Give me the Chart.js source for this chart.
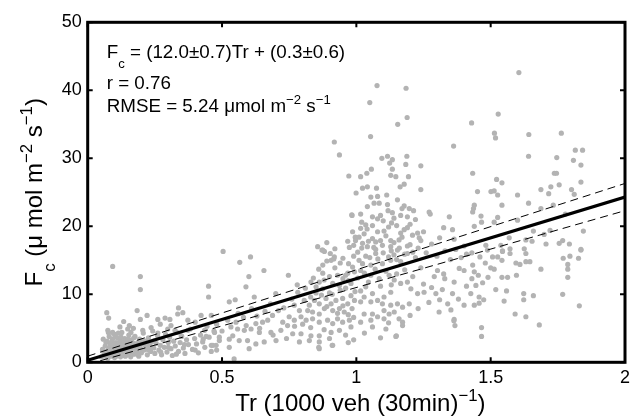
<!DOCTYPE html>
<html>
<head>
<meta charset="utf-8">
<script src="https://cdn.jsdelivr.net/npm/chart.js@4.4.1/dist/chart.umd.min.js"></script>
<style>
  html, body { margin: 0; padding: 0; background: #ffffff; }
  #wrap { width: 630px; height: 416px; }
</style>
</head>
<body>
<div id="wrap"><canvas id="fc" width="630" height="416"></canvas></div>
<script>
// Axis ticks
const trTicks = [0, 0.5, 1, 1.5, 2];
const fcTicks = [0, 10, 20, 30, 40, 50];

// Linear fit Fc = a*Tr + b with standard errors, and fit statistics
const fitSlope = 12.0, slopeErr = 0.7;
const fitIntercept = 0.3, interceptErr = 0.6;
const corrR = 0.76;
const rmse = 5.24;

// Half-hourly observations [Tr (1000 veh / 30 min), Fc (umol m-2 s-1)]
const lowTraffic = [
  [0.05,0.8],[0.06,1.5],[0.065,2.4],[0.07,1.1],[0.072,3.1],[0.075,0.6],[0.078,2.0],[0.08,3.8],[0.082,1.4],[0.085,2.7],
  [0.088,0.9],[0.09,1.9],[0.092,3.4],[0.095,1.2],[0.097,2.3],[0.1,4.1],[0.1,0.7],[0.102,1.6],[0.105,2.9],[0.107,2.0],
  [0.11,3.6],[0.112,1.1],[0.115,2.5],[0.117,1.7],[0.12,3.2],[0.122,0.8],[0.125,2.1],[0.127,4.4],[0.13,1.4],[0.133,2.8],
  [0.135,1.9],[0.138,3.5],[0.14,0.9],[0.143,2.4],[0.145,1.3],[0.148,3.0],[0.15,2.0],[0.153,4.0],[0.155,1.6],[0.158,2.6],
  [0.16,0.8],[0.163,3.3],[0.166,1.9],[0.17,2.8],[0.173,1.2],[0.176,3.8],[0.18,2.2],[0.183,1.5],[0.186,2.9],[0.19,0.9],
  [0.193,3.4],[0.197,2.0],[0.2,1.4],[0.203,2.7],[0.207,4.3],[0.21,1.8],[0.214,3.1],[0.218,2.3],[0.222,1.1],[0.226,3.6],
  [0.23,2.6],[0.234,1.6],[0.238,3.0],[0.242,4.6],[0.246,2.1],[0.25,1.3],[0.255,2.8],[0.26,3.9],[0.265,1.8],[0.27,2.5],
  [0.275,1.1],[0.28,3.3],[0.285,2.2],[0.29,4.1],[0.295,1.5],[0.3,2.9],[0.305,3.7],[0.31,2.0],[0.315,1.0],[0.32,3.1],
  [0.326,2.4],[0.332,4.4],[0.338,1.6],[0.344,2.9],[0.35,3.8],[0.356,2.1],[0.362,1.3],[0.368,3.3],[0.375,2.6],[0.382,4.9],
  [0.39,1.9],[0.398,3.5],[0.405,2.7],[0.412,1.4],[0.42,4.0],[0.428,3.0],[0.436,2.2],[0.444,5.3],[0.452,3.7],[0.46,2.5],
  [0.47,4.6],[0.48,1.8],[0.49,3.2],
  [0.071,7.3],[0.078,6.5],[0.093,14.1],[0.196,12.6],[0.196,10.7],[0.184,7.6],[0.221,6.9],[0.196,6.3],[0.134,6.0],[0.155,5.4],
  [0.261,6.3],[0.288,6.5],[0.306,6.3],[0.338,8.0],[0.354,7.3],[0.335,7.1],[0.422,6.9],[0.46,6.9],[0.373,6.2],[0.075,4.7],
  [0.093,4.4],[0.114,4.3],[0.149,4.9],[0.161,4.4],[0.205,4.7],[0.236,5.1],[0.261,4.3],[0.298,4.9],[0.325,4.7],[0.348,3.9],
  [0.373,4.7],[0.435,4.7],[0.441,3.8],[0.472,4.4],[0.49,3.7],[0.478,2.5],[0.466,2.5],[0.45,11.2],[0.45,9.6],
  [0.055,1.9],[0.058,3.4],[0.062,0.9],[0.068,2.9],[0.073,1.7],[0.077,4.4],[0.083,2.3],[0.086,1.0],[0.089,3.0],[0.094,2.6],
  [0.098,1.4],[0.103,3.8],[0.106,0.9],[0.109,2.4],[0.113,1.4],[0.118,2.9],[0.121,1.9],[0.124,3.7],[0.128,1.0],[0.131,2.3],
  [0.136,3.1],[0.139,1.6],[0.142,2.0],[0.147,1.1],[0.151,3.4],[0.156,2.2],[0.162,1.2],[0.167,2.4],[0.172,3.6],[0.178,1.7],
  [0.182,2.6],[0.188,1.2],[0.192,2.4],[0.2,3.2],[0.212,2.6],[0.224,1.9],[0.236,2.2],[0.248,3.2],[0.272,1.5],[0.3,2.2],
  [0.33,1.2],[0.36,2.6],[0.4,1.8],[0.43,3.4],[0.46,1.6],[0.12,5.2],[0.17,5.0],[0.27,5.6],[0.31,5.4],[0.4,5.9],
  [0.48,5.6]
];

const midTraffic = [
  [0.504,16.3],[0.566,14.7],[0.606,15.5],[0.656,13.5],[0.6,12.6],[0.589,11.1],[0.747,12.8],[0.881,16.3],[0.906,15.0],[0.918,15.5],
  [0.875,14.3],[0.971,14.5],[0.986,14.0],[0.875,13.1],[0.9,12.6],[0.93,12.8],[0.95,12.3],[0.968,13.1],[0.993,13.3],[0.831,11.8],
  [0.862,11.8],[0.85,11.1],[0.875,10.8],[0.912,11.6],[0.937,11.3],[0.98,11.6],[0.527,8.9],[0.549,9.2],[0.62,9.6],[0.7,10.1],
  [0.782,10.3],[0.806,9.1],[0.825,8.4],[0.844,9.1],[0.862,8.6],[0.887,9.4],[0.906,8.6],[0.924,9.1],[0.949,9.4],[0.968,8.6],
  [0.993,9.1],[0.984,7.9],[0.819,7.6],[0.837,7.4],[0.862,7.1],[0.881,7.9],[0.912,7.6],[0.937,7.9],[0.955,7.4],[0.769,8.4],
  [0.788,7.6],[0.75,6.7],[0.769,6.2],[0.794,6.7],[0.813,6.2],[0.837,6.4],[0.862,5.9],[0.893,6.2],[0.912,5.7],[0.93,6.4],
  [0.949,5.9],[0.974,6.2],[0.726,5.9],[0.744,5.4],[0.688,6.9],[0.67,6.2],[0.651,5.9],[0.626,5.7],[0.608,4.9],[0.583,4.7],
  [0.558,4.9],[0.533,5.2],[0.552,5.9],[0.521,6.2],[0.639,4.4],[0.682,4.4],[0.719,4.7],[0.763,4.2],[0.794,4.2],[0.831,3.9],
  [0.862,3.9],[0.906,4.4],[0.937,4.7],[0.98,5.2],[0.527,3.4],[0.564,3.2],[0.595,3.2],[0.626,2.7],[0.657,3.0],[0.701,3.2],
  [0.788,3.0],[0.825,3.2],[0.862,3.0],[0.912,2.5],[0.527,2.2],[0.601,2.0],[0.862,2.0],[0.545,0.5],[0.86,2.2],[0.91,2.5],
  [0.856,17.0],[0.875,16.5],[0.968,17.8],[0.99,17.2],[0.974,16.9],[0.986,19.2],[0.996,18.4],[0.983,21.7],[0.999,24.9],[0.972,27.4],
  [0.937,30.5],[0.918,32.4],[0.872,16.5],[0.903,16.0],[0.916,15.2],[0.984,21.6],[0.997,17.9],
  [0.81,10.9],[0.84,12.4],[0.86,13.7],[0.89,14.9],[0.9,10.2],[0.92,13.9],[0.94,10.6],[0.95,15.3],[0.96,10.9],[0.97,12.0],
  [0.99,15.6],[0.995,10.4],[0.88,12.1],[0.83,9.6],[0.85,10.2],[0.87,9.9],[0.89,8.2],[0.91,10.0],[0.93,7.2],[0.95,8.3],
  [0.97,7.0],[0.99,6.6],[0.98,9.8],[0.96,12.8],[0.94,14.6],[0.92,16.7],[0.89,17.6],[0.78,11.4],[0.76,9.3],[0.73,8.0],
  [0.71,7.6],[0.68,8.6],[0.66,7.5],[0.63,6.8],[0.61,7.9],[0.58,6.6],[0.56,7.2],[0.54,3.9],[0.59,5.4],[0.64,5.0],
  [0.69,4.0],[0.74,3.5],[0.77,5.3],[0.8,5.6],[0.83,5.1],[0.88,4.8],[0.96,4.0],[0.99,3.3],[0.97,2.9],[0.9,3.5],
  [0.5,4.6]
];

const peakTraffic = [
  [1.01,15.0],[1.023,14.5],[1.054,14.3],[1.097,14.5],[1.128,15.0],[1.165,14.8],[1.14,15.8],[1.19,16.0],[1.072,16.0],[1.016,13.5],
  [1.054,12.8],[1.085,12.3],[1.122,12.8],[1.141,12.1],[1.165,11.6],[1.19,11.8],[1.203,10.8],[1.228,10.1],[1.252,10.3],[1.296,10.1],
  [1.358,10.1],[1.302,13.5],[1.325,13.0],[1.329,12.3],[1.29,12.6],[1.364,11.8],[1.383,13.8],[1.401,13.5],[1.433,14.3],[1.439,13.3],
  [1.454,12.8],[1.445,11.3],[1.426,10.1],[1.457,9.6],[1.474,9.2],[1.457,8.7],[1.439,8.4],[1.401,8.4],[1.016,10.5],[1.035,11.1],
  [1.06,10.1],[1.029,9.6],[1.016,8.9],[1.054,8.9],[1.079,9.1],[1.103,9.6],[1.128,10.3],[1.128,8.4],[1.153,8.6],[1.172,8.1],
  [1.197,8.6],[1.097,8.6],[1.103,7.6],[1.122,7.1],[1.141,7.4],[1.029,7.1],[1.06,7.1],[1.054,6.2],[1.079,6.7],[1.103,6.4],
  [1.159,6.4],[1.172,5.9],[1.172,5.4],[1.016,5.9],[1.11,4.9],[1.147,3.8],[1.308,7.4],[1.352,7.7],[1.364,6.3],[1.367,5.4],
  [1.466,5.1],[1.466,3.8],
  [1.362,31.8],[1.095,30.0],[1.116,30.3],[1.134,29.8],[1.124,29.3],[1.188,30.3],[1.184,29.1],[1.24,28.9],[1.056,28.4],[1.039,27.8],
  [1.016,27.3],[1.134,28.4],[1.128,27.5],[1.147,27.3],[1.194,27.3],[1.433,27.8],[1.041,25.8],[1.023,25.6],[1.075,25.6],[1.178,26.2],
  [1.163,25.8],[1.24,25.4],[1.451,25.1],[1.054,24.3],[1.079,24.4],[1.113,24.6],[1.153,23.9],[1.066,23.4],[1.085,23.4],[1.116,23.2],
  [1.041,22.9],[1.178,23.0],[1.118,22.3],[1.134,22.0],[1.197,22.6],[1.213,22.3],[1.271,22.1],[1.275,21.8],[1.016,21.8],[1.06,21.4],
  [1.079,21.1],[1.165,21.6],[1.439,23.1],[1.436,22.6],[1.433,22.1],[1.464,21.5],[1.346,21.4],[1.131,20.5],[1.035,20.2],[1.178,19.5],
  [1.19,19.8],[1.165,19.0],[1.103,19.3],[1.079,19.2],[1.016,19.7],[1.029,18.9],[1.01,18.4],[1.06,18.2],[1.072,17.7],[1.128,17.9],
  [1.159,18.0],[1.209,18.7],[1.228,19.0],[1.234,18.3],[1.24,17.9],[1.325,19.8],[1.358,19.5],[1.439,20.0],[1.466,20.6],[1.364,18.1],
  [1.023,17.5],[1.041,17.0],[1.097,17.2],[1.128,17.0],[1.19,17.1],[1.153,16.5],[1.072,16.6],[1.401,17.1],[1.482,17.2],[1.488,16.5],
  [1.077,40.7],[1.185,40.3],[1.05,38.2],[1.189,36.0],[1.154,35.0],[1.053,33.2],[1.429,35.2],[1.149,3.9],[1.363,6.1],
  [1.005,16.2],[1.02,16.8],[1.035,15.6],[1.045,17.8],[1.05,15.4],[1.065,16.9],[1.08,15.2],[1.09,17.9],[1.1,16.1],[1.11,18.6],
  [1.12,15.5],[1.13,16.4],[1.14,17.6],[1.15,15.1],[1.16,16.8],[1.17,18.4],[1.18,15.9],[1.2,17.3],[1.21,16.2],[1.22,15.4],
  [1.23,16.8],[1.005,12.4],[1.03,13.1],[1.045,11.8],[1.07,13.7],[1.09,11.2],[1.11,13.4],[1.13,11.4],[1.15,13.0],[1.18,13.6],
  [1.21,12.6],[1.24,13.9],[1.02,20.6],[1.04,19.6],[1.06,20.1],[1.09,21.6],[1.1,20.8],[1.12,19.9],[1.14,21.2],[1.15,20.1],
  [1.17,22.6],[1.19,21.4],[1.2,20.3],[1.22,21.0],[1.25,19.2],[1.26,16.1],[1.28,17.4],[1.3,15.6],[1.31,18.3],[1.33,16.4],
  [1.35,15.1],[1.37,16.6],[1.39,15.4],[1.41,15.9],[1.43,16.1],[1.46,15.5],[1.48,14.6],[1.47,11.7],[1.49,12.5],[1.03,4.3],
  [1.06,5.2],[1.09,3.6],[1.12,5.8],[1.2,6.9],[1.23,7.9],[1.27,8.8],[1.31,9.2],[1.34,8.6],[1.38,9.3],[1.41,11.2],
  [1.43,12.3],[1.25,11.5],[1.28,11.0],[1.32,10.7]
];

const highTraffic = [
  [1.605,42.6],[1.528,36.5],[1.514,33.7],[1.518,33.0],[1.642,33.5],[1.763,33.7],[1.501,25.1],[1.5,13.9],
  [1.507,15.5],[1.526,15.5],[1.542,15.0],[1.544,16.3],[1.572,16.0],[1.631,16.0],[1.594,14.6],[1.609,14.4],[1.631,14.8],
  [1.646,14.8],[1.687,13.7],[1.513,13.7],[1.542,12.5],[1.563,12.5],[1.596,12.8],[1.77,15.3],[1.795,15.6],[1.827,15.3],[1.836,16.5],
  [1.787,14.4],[1.787,13.7],[1.787,12.5],[1.519,10.7],[1.559,10.5],[1.55,9.0],[1.623,10.1],[1.623,9.2],[1.659,9.8],[1.768,10.0],
  [1.83,8.3],[1.591,7.1],[1.631,6.7],[1.681,5.5],
  [1.641,30.3],[1.815,31.2],[1.842,31.2],[1.808,29.7],[1.836,29.0],[1.746,30.1],[1.737,27.8],[1.745,27.8],[1.522,26.9],[1.542,26.4],
  [1.836,26.5],[1.724,25.8],[1.755,26.1],[1.687,25.4],[1.716,24.8],[1.801,25.4],[1.811,24.7],[1.513,25.2],[1.526,24.6],[1.6,24.6],
  [1.542,23.1],[1.641,23.4],[1.687,22.6],[1.733,23.1],[1.778,21.8],[1.526,21.3],[1.513,20.6],[1.6,20.9],[1.845,19.3],[1.659,19.3],
  [1.721,19.4],[1.699,18.8],[1.569,18.3],[1.631,18.0],[1.654,17.8],[1.768,17.9],[1.755,17.5],[1.793,17.4],[1.706,17.4],[1.538,17.2],
  [1.625,16.7],[1.572,16.7],[1.836,16.6],[1.544,16.4]
];

const observations = [...lowTraffic, ...midTraffic, ...peakTraffic, ...highTraffic]
  .map(([tr, fc]) => ({ x: tr, y: fc }));

// Fit line and its error band, evaluated at the ends of the Tr axis
const trMin = trTicks[0], trMax = trTicks[trTicks.length - 1];
const lineFrom = (a, b) => [{ x: trMin, y: a * trMin + b }, { x: trMax, y: a * trMax + b }];

const FONT = '"Liberation Sans", Arial, Helvetica, sans-serif';
const MINUS = '\u2212';

// Draws a run of text pieces, some of them raised or lowered
function richWidth(ctx, parts, size) {
  let w = 0;
  for (const p of parts) {
    const s = p.sup || p.sub ? size * 0.7 : size;
    ctx.font = s + 'px ' + FONT;
    w += ctx.measureText(p.t).width;
  }
  return w;
}
function drawRich(ctx, parts, x, y, size, align) {
  let cx = x;
  if (align === 'center') cx = x - richWidth(ctx, parts, size) / 2;
  ctx.textAlign = 'left';
  ctx.textBaseline = 'alphabetic';
  for (const p of parts) {
    const s = p.sup || p.sub ? size * 0.7 : size;
    ctx.font = s + 'px ' + FONT;
    let dy = 0;
    if (p.sup) dy = -size * 0.42;
    if (p.sub) dy = size * 0.55;
    ctx.fillText(p.t, cx, y + dy);
    cx += ctx.measureText(p.t).width;
  }
}

const framePlugin = {
  id: 'frameAndText',
  afterDraw(chart) {
    const { ctx, chartArea: a, scales } = chart;
    const xs = scales.x, ys = scales.y;
    ctx.save();
    ctx.fillStyle = '#000';
    ctx.strokeStyle = '#000';

    // inward tick marks on all four sides
    ctx.lineWidth = 2;
    const tl = 5;
    ctx.beginPath();
    for (const v of trTicks) {
      const px = xs.getPixelForValue(v);
      ctx.moveTo(px, a.bottom); ctx.lineTo(px, a.bottom - tl);
      ctx.moveTo(px, a.top); ctx.lineTo(px, a.top + tl);
    }
    for (const v of fcTicks) {
      const py = ys.getPixelForValue(v);
      ctx.moveTo(a.left, py); ctx.lineTo(a.left + tl, py);
      ctx.moveTo(a.right, py); ctx.lineTo(a.right - tl, py);
    }
    ctx.stroke();

    // box
    ctx.lineWidth = 3;
    ctx.strokeRect(a.left, a.top, a.right - a.left, a.bottom - a.top);

    // tick labels
    ctx.font = '18px ' + FONT;
    ctx.textAlign = 'center';
    ctx.textBaseline = 'middle';
    for (const v of trTicks) {
      ctx.fillText(String(v), xs.getPixelForValue(v), a.bottom + 16);
    }
    ctx.textAlign = 'right';
    for (const v of fcTicks) {
      ctx.fillText(String(v), a.left - 6, ys.getPixelForValue(v));
    }

    // axis titles
    drawRich(ctx, [
      { t: 'Tr (1000 veh (30min)' }, { t: MINUS + '1', sup: true }, { t: ')' }
    ], (a.left + a.right) / 2 + 4, 411, 24, 'center');

    ctx.save();
    ctx.translate(42, (a.top + a.bottom) / 2);
    ctx.rotate(-Math.PI / 2);
    drawRich(ctx, [
      { t: 'F' }, { t: 'c', sub: true }, { t: ' (\u03bc mol m' }, { t: MINUS + '2', sup: true },
      { t: ' s' }, { t: MINUS + '1', sup: true }, { t: ')' }
    ], 0, 0, 24, 'center');
    ctx.restore();

    // fit statistics
    const tx = a.left + 19;
    const fs = 18.8;
    drawRich(ctx, [
      { t: 'F' }, { t: 'c', sub: true },
      { t: ' = (' + fitSlope.toFixed(1) + '\u00b1' + slopeErr.toFixed(1) + ')Tr + (' +
           fitIntercept.toFixed(1) + '\u00b1' + interceptErr.toFixed(1) + ')' }
    ], tx, 58, fs);
    drawRich(ctx, [{ t: 'r = ' + corrR.toFixed(2) }], tx, 89, fs);
    drawRich(ctx, [
      { t: 'RMSE = ' + rmse.toFixed(2) + ' \u03bcmol m' }, { t: MINUS + '2', sup: true },
      { t: ' s' }, { t: MINUS + '1', sup: true }
    ], tx, 112, fs);
    ctx.restore();
  }
};

new Chart(document.getElementById('fc'), {
  type: 'scatter',
  data: {
    datasets: [
      {
        label: 'fit',
        data: lineFrom(fitSlope, fitIntercept),
        showLine: true, borderColor: '#000', borderWidth: 3,
        pointRadius: 0, order: 0
      },
      {
        label: 'upper',
        data: lineFrom(fitSlope + slopeErr, fitIntercept + interceptErr),
        showLine: true, borderColor: '#000', borderWidth: 1, borderDash: [8, 5],
        pointRadius: 0, order: 1
      },
      {
        label: 'lower',
        data: lineFrom(fitSlope - slopeErr, fitIntercept - interceptErr),
        showLine: true, borderColor: '#000', borderWidth: 1, borderDash: [8, 5],
        pointRadius: 0, order: 1
      },
      {
        label: 'Fc',
        data: observations,
        pointRadius: 2.6, pointBackgroundColor: '#b3b3b3', pointBorderWidth: 0,
        pointHoverRadius: 2.6, order: 2
      }
    ]
  },
  options: {
    responsive: false,
    animation: false,
    events: [],
    layout: { padding: { top: 22.3, right: 5, left: 0, bottom: 0 } },
    plugins: { legend: { display: false }, tooltip: { enabled: false } },
    scales: {
      x: {
        type: 'linear', min: trTicks[0], max: trTicks[trTicks.length - 1],
        ticks: { display: false }, grid: { display: false }, border: { display: false },
        afterFit(s) { s.height = 416 - 362.3; }
      },
      y: {
        type: 'linear', min: fcTicks[0], max: fcTicks[fcTicks.length - 1],
        ticks: { display: false }, grid: { display: false }, border: { display: false },
        afterFit(s) { s.width = 87.7; }
      }
    }
  },
  plugins: [framePlugin]
});
</script>
</body>
</html>
